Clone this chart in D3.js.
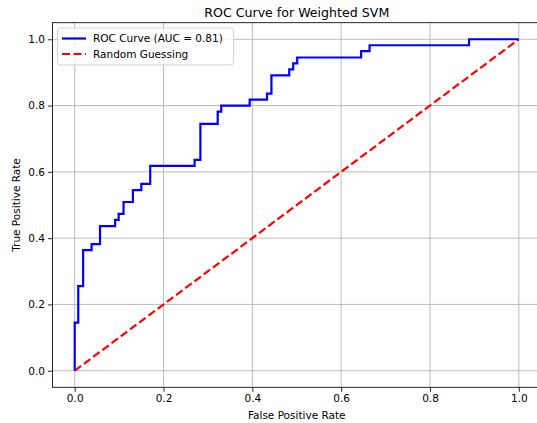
<!DOCTYPE html>
<html>
<head>
<meta charset="utf-8">
<script src="https://cdn.jsdelivr.net/npm/d3@7"></script>
<style>
  body { margin: 0; background: #fff; }
  text { font-family: "DejaVu Sans", sans-serif; fill: #000; }
</style>
</head>
<body>
<div id="chart"></div>
<script>
// ROC corner points (false positive rate, true positive rate)
var fpr = [0, 0, 0.008, 0.008, 0.019, 0.019, 0.038, 0.038, 0.057, 0.057,
  0.091, 0.091, 0.099, 0.099, 0.11, 0.11, 0.131, 0.131, 0.15, 0.15,
  0.17, 0.17, 0.27, 0.27, 0.283, 0.283, 0.322, 0.322, 0.33, 0.33,
  0.394, 0.394, 0.433, 0.433, 0.443, 0.443, 0.483, 0.483, 0.492, 0.492,
  0.501, 0.501, 0.645, 0.645, 0.664, 0.664, 0.888, 0.888, 1.0]
var tpr = [0, 0.145, 0.145, 0.255, 0.255, 0.364, 0.364, 0.382, 0.382, 0.436,
  0.436, 0.455, 0.455, 0.473, 0.473, 0.509, 0.509, 0.545, 0.545, 0.564,
  0.564, 0.618, 0.618, 0.636, 0.636, 0.745, 0.745, 0.782, 0.782, 0.8,
  0.8, 0.818, 0.818, 0.836, 0.836, 0.891, 0.891, 0.909, 0.909, 0.927,
  0.927, 0.945, 0.945, 0.964, 0.964, 0.982, 0.982, 1.0, 1.0]

var diagX = [0, 1]
var diagY = [0, 1]

var ticks = [0, 0.2, 0.4, 0.6, 0.8, 1.0]
var title = "ROC Curve for Weighted SVM"
var legendLabels = ["ROC Curve (AUC = 0.81)", "Random Guessing"]

var W = 537, H = 423
// plot box (window.top is reserved, so prefixed names)
var pL = 52.5, pR = 541, pT = 22.7, pB = 387.3

var svg = d3.select("#chart").append("svg").attr("width", W).attr("height", H)

var x = d3.scaleLinear().domain([-0.05, 1.05]).range([pL, pR])
var y = d3.scaleLinear().domain([-0.05, 1.05]).range([pB, pT])

// grid
svg.append("g").selectAll("line").data(ticks).enter().append("line")
  .attr("x1", d => x(d)).attr("x2", d => x(d))
  .attr("y1", pT).attr("y2", pB)
  .style("stroke", "#b0b0b0").style("stroke-width", 0.85)
svg.append("g").selectAll("line").data(ticks).enter().append("line")
  .attr("x1", pL).attr("x2", pR)
  .attr("y1", d => y(d)).attr("y2", d => y(d))
  .style("stroke", "#b0b0b0").style("stroke-width", 0.85)

// axes
var fmt = d3.format(".1f")
var xAxis = svg.append("g").attr("transform", "translate(0," + pB + ")")
  .call(d3.axisBottom(x).tickValues(ticks).tickFormat(fmt).tickSize(4.5).tickPadding(3))
var yAxis = svg.append("g").attr("transform", "translate(" + pL + ",0)")
  .call(d3.axisLeft(y).tickValues(ticks).tickFormat(fmt).tickSize(4.5).tickPadding(3))
;[xAxis, yAxis].forEach(function (a) {
  a.select(".domain").remove()
  a.selectAll("line").style("stroke", "#000").style("stroke-width", 0.85)
  a.selectAll("text").style("font-size", "10.5px").style("font-family", "DejaVu Sans")
})

// lines
var line = d3.line().x(d => x(d[0])).y(d => y(d[1]))

svg.append("path")
  .datum(diagX.map((d, i) => [d, diagY[i]]))
  .attr("d", line)
  .style("fill", "none").style("stroke", "#ff0000").style("stroke-width", 2.2)
  .style("stroke-dasharray", "8,3.5")

svg.append("path")
  .datum(fpr.map((d, i) => [d, tpr[i]]))
  .attr("d", line)
  .style("fill", "none").style("stroke", "#0000ff").style("stroke-width", 2.2)
  .style("stroke-linejoin", "miter")

// spines
svg.append("rect")
  .attr("x", pL).attr("y", pT)
  .attr("width", pR - pL).attr("height", pB - pT)
  .style("fill", "none").style("stroke", "#000").style("stroke-width", 0.85)

// title and labels
svg.append("text").attr("x", (pL + pR) / 2).attr("y", 16.5)
  .attr("text-anchor", "middle").style("font-size", "12.6px").text(title)
svg.append("text").attr("x", (pL + pR) / 2).attr("y", 418.5)
  .attr("text-anchor", "middle").style("font-size", "10.5px").text("False Positive Rate")
svg.append("text")
  .attr("transform", "translate(20," + ((pT + pB) / 2) + ") rotate(-90)")
  .attr("text-anchor", "middle").style("font-size", "10.5px").text("True Positive Rate")

// legend
var lg = svg.append("g")
lg.append("rect")
  .attr("x", 57.5).attr("y", 28).attr("width", 176).attr("height", 37)
  .attr("rx", 2.5)
  .style("fill", "#fff").style("fill-opacity", 0.8)
  .style("stroke", "#cccccc").style("stroke-width", 0.85)

var legColors = ["#0000ff", "#ff0000"]
var legDash = [null, "8,3.5"]
legendLabels.forEach(function (lab, i) {
  var yy = 38.5 + i * 15.5
  lg.append("line")
    .attr("x1", 62).attr("x2", 86).attr("y1", yy).attr("y2", yy)
    .style("stroke", legColors[i]).style("stroke-width", 2.2)
    .style("stroke-dasharray", legDash[i])
  lg.append("text")
    .attr("x", 93).attr("y", yy + 3.8)
    .style("font-size", "10.5px")
    .text(lab)
})
</script>
</body>
</html>
